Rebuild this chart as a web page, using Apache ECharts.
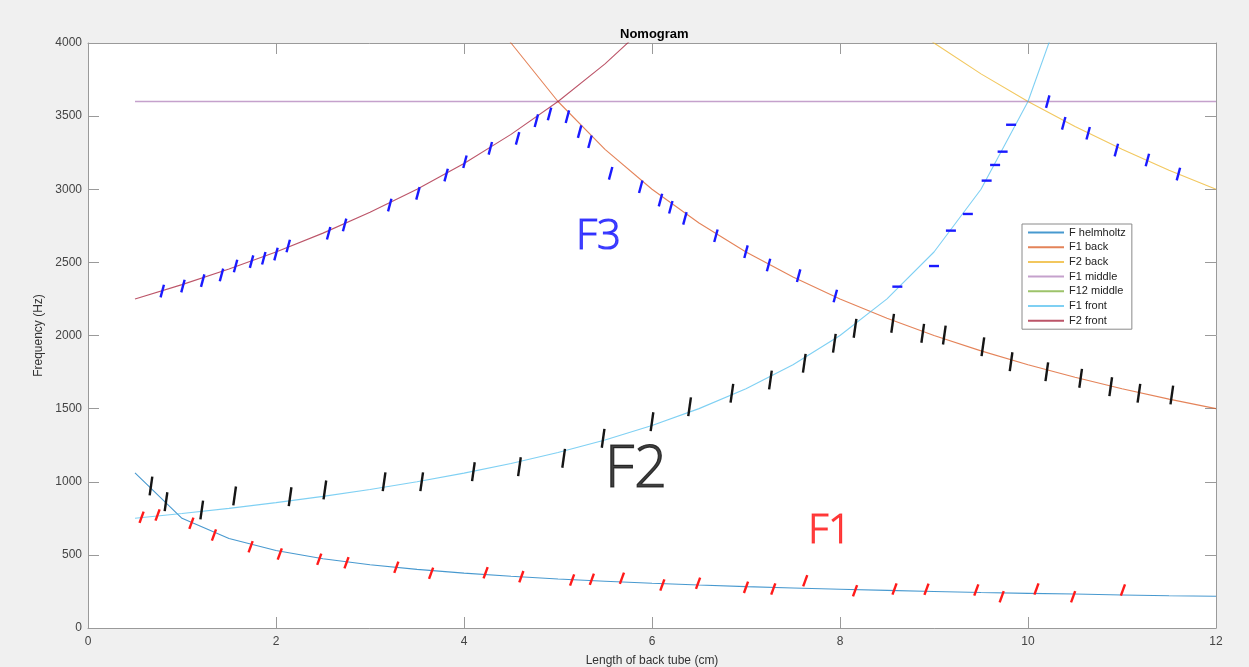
<!DOCTYPE html>
<html>
<head>
<meta charset="utf-8">
<script src="https://cdn.jsdelivr.net/npm/echarts@6/dist/echarts.min.js"></script>
<style>
html,body{margin:0;padding:0;background:#f0f0f0;}
#chart{width:1249px;height:667px;}
</style>
</head>
<body>
<div id="chart"></div>
<script>
// Length of back tube (cm)
const L = [0.5,1,1.5,2,2.5,3,3.5,4,4.5,5,5.5,6,6.5,7,7.5,8,8.5,9,9.5,10,10.5,11,11.5,12];
// Frequencies (Hz)
const fHelmholtz = [1061,750,612,530,474,433,401,375,354,335,320,306,294,283,274,265,257,250,243,237,232,226,221,217];
const f1Back = [36000,18000,12000,9000,7200,6000,5143,4500,4000,3600,3273,3000,2769,2571,2400,2250,2118,2000,1895,1800,1714,1636,1565,1500];
const f2Back = [72000,36000,24000,18000,14400,12000,10286,9000,8000,7200,6545,6000,5538,5143,4800,4500,4235,4000,3789,3600,3429,3273,3130,3000];
const f1Middle = [3600,3600,3600,3600,3600,3600,3600,3600,3600,3600,3600,3600,3600,3600,3600,3600,3600,3600,3600,3600,3600,3600,3600,3600];
const f12Middle = [7200,7200,7200,7200,7200,7200,7200,7200,7200,7200,7200,7200,7200,7200,7200,7200,7200,7200,7200,7200,7200,7200,7200,7200];
const f1Front = [750,783,818,857,900,947,1000,1059,1125,1200,1286,1385,1500,1636,1800,2000,2250,2571,3000,3600,4500,6000,9000,18000];
const f2Front = [2250,2348,2455,2571,2700,2842,3000,3176,3375,3600,3857,4154,4500,4909,5400,6000,6750,7714,9000,10800,13500,18000,27000,54000];

const seriesNames = ['F helmholtz','F1 back','F2 back','F1 middle','F12 middle','F1 front','F2 front'];
const seriesValues = [fHelmholtz,f1Back,f2Back,f1Middle,f12Middle,f1Front,f2Front];

// Hand-drawn annotation marks [length cm, frequency Hz]
const redMarks = [[0.57,757],[0.74,773],[1.10,716],[1.34,636],[1.73,556],[2.04,506],[2.46,470],[2.75,446],[3.28,415],[3.65,374],[4.23,378],[4.61,351],[5.15,328],[5.36,333],[5.68,340],[6.11,294],[6.49,306],[7.00,278],[7.29,267],[7.63,323],[8.16,255],[8.58,267],[8.92,265],[9.45,260],[9.72,214],[10.09,267],[10.48,214],[11.01,260]];
const blackMarks = [[0.67,971],[0.83,864],[1.21,807],[1.56,903],[2.15,898],[2.52,944],[3.15,1000],[3.55,1000],[4.10,1069],[4.59,1103],[5.06,1160],[5.48,1297],[6.00,1411],[6.40,1513],[6.85,1605],[7.26,1696],[7.62,1810],[7.94,1947],[8.16,2049],[8.56,2083],[8.88,2015],[9.11,2003],[9.52,1923],[9.82,1821],[10.20,1752],[10.56,1707],[10.88,1650],[11.18,1605],[11.53,1593]];
const blueMarks = [[0.79,2304],[1.01,2338],[1.22,2375],[1.42,2414],[1.57,2475],[1.74,2505],[1.87,2528],[2.00,2557],[2.13,2612],[2.56,2699],[2.73,2756],[3.21,2892],[3.51,2972],[3.81,3097],[4.01,3188],[4.28,3280],[4.57,3348],[4.77,3469],[4.91,3515],[5.10,3496],[5.23,3394],[5.34,3325],[5.56,3109],[5.88,3017],[6.09,2926],[6.20,2877],[6.35,2801],[6.68,2682],[7.00,2573],[7.24,2482],[7.56,2409],[7.95,2270],[10.21,3599],[10.38,3451],[10.64,3383],[10.94,3268],[11.27,3200],[11.60,3104]];
const blueDashes = [[8.61,2334],[9.00,2475],[9.18,2717],[9.36,2831],[9.56,3059],[9.65,3166],[9.73,3257],[9.82,3441]];
// Handwritten labels
const handLabels = ['F1','F2','F3'];
const handPos = [[7.89,656],[5.83,1080],[5.43,2674]];

const colors = ['#0072BD','#D95319','#EDB120','#7E2F8E','#77AC30','#4DBEEE','#A2142F'];
const FONT = '"Liberation Sans", Arial, Helvetica, sans-serif';
const axisColor = '#9a9a9a';
const labelColor = '#444';

const chart = echarts.init(document.getElementById('chart'));

const lineSeries = seriesNames.map((n, k) => ({
  name: n,
  type: 'line',
  symbol: 'none',
  data: L.map((x, i) => [x, seriesValues[k][i]]),
  lineStyle: {width: k === 3 ? 1.6 : 1.1, color: colors[k], opacity: k === 3 ? 0.45 : 0.72},
  itemStyle: {color: colors[k]},
  clip: true,
  z: 2 + k
}));

function markSeries(data, color, size, rot) {
  return {
    type: 'scatter',
    data: data,
    symbol: 'rect',
    symbolSize: size,
    symbolRotate: rot,
    itemStyle: {color: color, opacity: 1},
    silent: true,
    z: 20
  };
}

const handColors = ['#ff1a1a','#111111','#1a1aff'];
const handSizes = [40, 58, 42];

const option = {
  backgroundColor: '#f0f0f0',
  animation: false,
  grid: {left: 88, right: 33, top: 43, bottom: 39, show: true, backgroundColor: '#ffffff', borderWidth: 0,
         containLabel: false, outerBoundsMode: 'none'},
  graphic: [{
    type: 'text', left: 652 - 32, top: 28,
    style: {text: 'Nomogram', font: 'bold 13px ' + FONT, fill: '#000'}
  }],
  legend: {
    data: seriesNames,
    orient: 'vertical',
    left: 1022, top: 224,
    backgroundColor: '#ffffff',
    borderColor: '#8a8a8a', borderWidth: 1, borderRadius: 0,
    padding: [3, 6, 3, 5],
    itemWidth: 36, itemHeight: 12, itemGap: 3.7,
    itemStyle: {opacity: 0},
    textStyle: {fontSize: 11, fontFamily: FONT, color: '#222'},
    selectedMode: false
  },
  xAxis: [{
    type: 'value', min: 0, max: 12, interval: 2, position: 'bottom',
    name: 'Length of back tube (cm)', nameLocation: 'middle', nameGap: 27,
    nameTextStyle: {fontSize: 12, fontFamily: FONT, color: '#333'},
    axisLine: {show: true, onZero: false, lineStyle: {color: axisColor, width: 1}},
    axisTick: {show: true, inside: true, length: 11, lineStyle: {color: axisColor}},
    axisLabel: {color: labelColor, fontSize: 12, fontFamily: FONT, margin: 8},
    splitLine: {show: false}
  }, {
    type: 'value', min: 0, max: 12, interval: 2, position: 'top',
    axisLine: {show: true, onZero: false, lineStyle: {color: axisColor, width: 1}},
    axisTick: {show: true, inside: true, length: 11, lineStyle: {color: axisColor}},
    axisLabel: {show: false}, splitLine: {show: false}
  }],
  yAxis: [{
    type: 'value', min: 0, max: 4000, interval: 500, position: 'left',
    name: 'Frequency (Hz)', nameLocation: 'middle', nameGap: 31,
    nameTextStyle: {fontSize: 12, fontFamily: FONT, color: '#333'},
    axisLine: {show: true, onZero: false, lineStyle: {color: axisColor, width: 1}},
    axisTick: {show: true, inside: true, length: 11, lineStyle: {color: axisColor}},
    axisLabel: {color: labelColor, fontSize: 12, fontFamily: FONT, margin: 6, formatter: v => String(v)},
    splitLine: {show: false}
  }, {
    type: 'value', min: 0, max: 4000, interval: 500, position: 'right',
    axisLine: {show: true, onZero: false, lineStyle: {color: axisColor, width: 1}},
    axisTick: {show: true, inside: true, length: 11, lineStyle: {color: axisColor}},
    axisLabel: {show: false}, splitLine: {show: false}
  }],
  series: lineSeries.concat([
    markSeries(redMarks, '#ff1a1a', [2.4, 12], -20),
    markSeries(blackMarks, '#151515', [2.4, 19], -8),
    markSeries(blueMarks, '#1a1aff', [2.4, 13], -15),
    markSeries(blueDashes, '#1a1aff', [10, 2.4], 0),
    {
      type: 'scatter',
      symbolSize: 0,
      silent: true,
      z: 21,
      data: handLabels.map((t, i) => ({
        value: handPos[i],
        name: t,
        label: {
          show: true, position: 'inside', formatter: t,
          color: handColors[i], fontSize: handSizes[i],
          textBorderColor: handColors[i], textBorderWidth: 1.2,
          fontFamily: '"DejaVu Sans ExtraLight", "Open Sans", sans-serif', fontWeight: 300
        }
      }))
    }
  ])
};
chart.setOption(option);
</script>
</body>
</html>
